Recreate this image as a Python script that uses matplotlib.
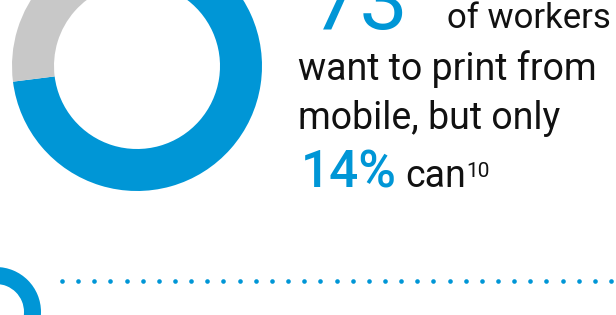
import matplotlib
matplotlib.use("Agg")
import matplotlib.pyplot as plt
import numpy as np

# donut values (percent)
want_print = [73, 27]
can_print = 14
second_donut = [100]
big_label = "73"
line_texts = ["of workers", "want to print from", "mobile, but only"]

blue = "#0096D6"
grey = "#C8C8C8"
ink = "#111111"
W, H = 616, 315

plt.rcParams['font.family'] = ['Roboto', 'DejaVu Sans']

fig = plt.figure(figsize=(W / 100, H / 100), dpi=100)
ax = fig.add_axes([0, 0, 1, 1])

# top donut (partly cut off at the top)
ax.pie(want_print, colors=[blue, grey], startangle=90, counterclock=False,
       radius=125, center=(137, H - 66),
       wedgeprops=dict(width=42, linewidth=0))

# bottom donut, cut off at the left edge
ax.pie(second_donut, colors=[blue], startangle=90, counterclock=False,
       radius=45, center=(-4, H - 312),
       wedgeprops=dict(width=17, linewidth=0))

# dotted separator
dots_x = np.linspace(62, 611, 35)
ax.scatter(dots_x, np.full_like(dots_x, H - 281), s=11, color=blue, linewidths=0)

# text block
ax.text(312, H - 29, big_label, color=blue, fontsize=62,
        va='baseline', ha='left')
ax.text(447, H - 28, line_texts[0], color=ink, fontsize=25, va='baseline')
ax.text(298, H - 80, line_texts[1], color=ink, fontsize=27, va='baseline')
ax.text(298, H - 129, line_texts[2], color=ink, fontsize=27, va='baseline')
ax.text(301, H - 187, f"{can_print}%", color=blue, fontsize=37,
        fontweight='medium', va='baseline')
ax.text(405, H - 187, "can", color=ink, fontsize=27, va='baseline')
ax.text(466, H - 177, "10", color=ink, fontsize=15, va='baseline')

ax.set_xlim(0, W)
ax.set_ylim(0, H)
ax.set_aspect('equal')
ax.axis('off')

fig.savefig("out.png", dpi=100)
